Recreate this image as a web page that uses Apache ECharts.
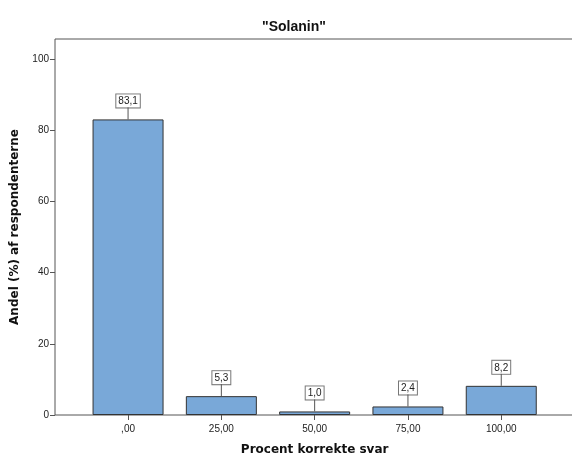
<!DOCTYPE html>
<html>
<head>
<meta charset="utf-8">
<script src="https://cdn.jsdelivr.net/npm/echarts@6/dist/echarts.min.js"></script>
<style>html,body{margin:0;padding:0;background:#fff}#c{width:572px;height:455px}</style>
</head>
<body>
<div id="c"></div>
<script>
var categories = [',00', '25,00', '50,00', '75,00', '100,00'];
var values = [83.1, 5.3, 1.0, 2.4, 8.2];
var yTicks = [0, 20, 40, 60, 80, 100];
var titleText = '"Solanin"';
var xName = 'Procent korrekte svar';
var yName = 'Andel (%) af respondenterne';

var fmt = function (v) { return v.toFixed(1).replace('.', ','); };
var FONT = 'Liberation Sans, Arial, sans-serif';
var NAMEFONT = 'DejaVu Sans, Verdana, sans-serif';
var AX = '#555';
var pairData = values.map(function (v, i) { return [i, v]; });

var chart = echarts.init(document.getElementById('c'), null, {renderer: 'canvas'});
chart.setOption({
  animation: false,
  backgroundColor: '#fff',
  title: {
    text: titleText, left: 289, top: 15, textAlign: 'center',
    textStyle: {fontFamily: FONT, fontSize: 14, fontWeight: 'bold', color: '#111'}
  },
  grid: [
    {left: 55, width: 530, top: 39, height: 376, show: true, borderColor: AX, borderWidth: 1,
     backgroundColor: 'transparent', outerBoundsMode: 'none', containLabel: false},
    {left: 81.4, width: 466.5, top: 59.3, height: 355.7, outerBoundsMode: 'none', containLabel: false}
  ],
  xAxis: [
    {gridIndex: 0, type: 'value', show: false, min: 0, max: 1},
    {
      gridIndex: 1, type: 'category', data: categories,
      axisLine: {show: false},
      axisTick: {show: true, alignWithLabel: true, length: 5, lineStyle: {color: AX}},
      axisLabel: {fontFamily: FONT, fontSize: 10, color: '#222', margin: 9},
      name: xName, nameLocation: 'middle', nameGap: 29,
      nameTextStyle: {fontFamily: NAMEFONT, fontSize: 12, fontWeight: 'bold', color: '#111'}
    }
  ],
  yAxis: [
    {
      gridIndex: 0, type: 'value', min: 0, max: 1,
      axisLine: {show: false}, axisTick: {show: false}, axisLabel: {show: false}, splitLine: {show: false},
      name: yName, nameLocation: 'middle', nameGap: 34, nameRotate: 90,
      nameTextStyle: {fontFamily: NAMEFONT, fontSize: 12, fontWeight: 'bold', color: '#111'}
    },
    {
      gridIndex: 1, type: 'value', min: 0, max: 100, interval: 20, offset: 26.4,
      splitLine: {show: false},
      axisLine: {show: false},
      axisTick: {show: true, length: 5, lineStyle: {color: AX}},
      axisLabel: {fontFamily: FONT, fontSize: 10, color: '#222', margin: 6}
    }
  ],
  series: [
    {
      type: 'bar', xAxisIndex: 1, yAxisIndex: 1, data: values, barWidth: 71,
      itemStyle: {color: '#79a8d8', borderColor: '#333', borderWidth: 1},
      label: {
        show: true, position: 'top', distance: 12,
        formatter: function (p) { return fmt(p.value); },
        fontFamily: FONT, fontSize: 10, color: '#222',
        backgroundColor: '#fff', borderColor: '#777', borderWidth: 1, padding: [2, 2, 1, 2]
      }
    },
    {
      type: 'custom', xAxisIndex: 1, yAxisIndex: 1, data: pairData, encode: {x: 0, y: 1},
      silent: true, z: 3,
      renderItem: function (params, api) {
        var p = api.coord([api.value(0), api.value(1)]);
        return {type: 'line', shape: {x1: p[0], y1: p[1], x2: p[0], y2: p[1] - 12},
          style: {stroke: AX, lineWidth: 1}};
      }
    }
  ]
});
</script>
</body>
</html>
